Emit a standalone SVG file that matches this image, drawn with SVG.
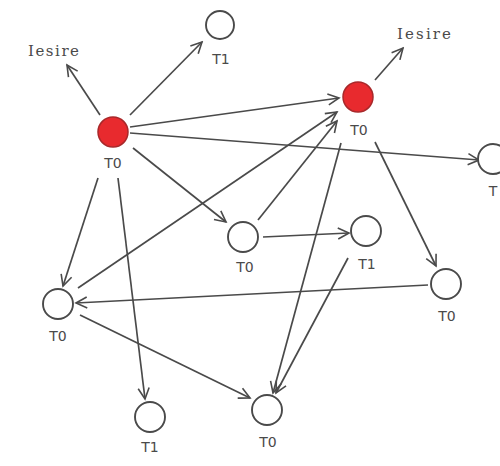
<svg xmlns="http://www.w3.org/2000/svg" width="500" height="466" viewBox="0 0 500 466">
<defs>
<marker id="arr" markerUnits="userSpaceOnUse" markerWidth="14" markerHeight="14" refX="12" refY="7" orient="auto">
<path d="M1,1.5 L12,7 L1,12.5" fill="none" stroke="#4a4a4a" stroke-width="1.6"/>
</marker>
<style>
.e{stroke:#4a4a4a;stroke-width:1.7;fill:none;marker-end:url(#arr)}
.n{fill:#fff;stroke:#4a4a4a;stroke-width:1.9}
.r{fill:#e82a2e;stroke:#a8282a;stroke-width:1.5}
.l{font-family:"DejaVu Sans",sans-serif;font-size:14px;fill:#4a4a4a;text-anchor:middle}
.o{font-family:"DejaVu Serif",serif;font-size:15px;fill:#4a4a4a}
</style>
</defs>
<rect width="500" height="466" fill="#fff"/>
<g id="connectors">
<line class="e" x1="100" y1="115" x2="67" y2="65"/>
<line class="e" x1="130" y1="115" x2="202" y2="42"/>
<line class="e" x1="130" y1="127" x2="339" y2="98"/>
<line class="e" x1="130" y1="133" x2="479" y2="160"/>
<line class="e" x1="133" y1="148" x2="226" y2="222"/>
<line class="e" x1="98" y1="178" x2="63" y2="286"/>
<line class="e" x1="118" y1="178" x2="145" y2="399"/>
<line class="e" x1="78" y1="288" x2="337" y2="112"/>
<line class="e" x1="80" y1="315" x2="250" y2="398"/>
<line class="e" x1="428" y1="285" x2="76" y2="303"/>
<line class="e" x1="375" y1="142" x2="436" y2="266"/>
<line class="e" x1="341" y1="143" x2="273" y2="393"/>
<line class="e" x1="258" y1="220" x2="337" y2="121"/>
<line class="e" x1="263" y1="237" x2="349" y2="233"/>
<line class="e" x1="348" y1="258" x2="276" y2="393"/>
<line class="e" x1="375" y1="80" x2="403" y2="48"/>
</g>
<g id="iesire1"><text class="o" x="28" y="56" textLength="51">Iesire</text></g>
<g id="iesire2"><text class="o" x="397" y="39" textLength="54">Iesire</text></g>
<g id="nA"><circle class="r" cx="113" cy="132" r="15"/><text class="l" x="113" y="168">T0</text></g>
<g id="nB"><circle class="n" cx="220" cy="25" r="14"/><text class="l" x="221" y="64">T1</text></g>
<g id="nC"><circle class="r" cx="358" cy="97" r="15"/><text class="l" x="359" y="135">T0</text></g>
<g id="nD"><circle class="n" cx="493" cy="159" r="15"/><text class="l" x="493" y="196">T</text></g>
<g id="nE"><circle class="n" cx="58" cy="304" r="15"/><text class="l" x="58" y="341">T0</text></g>
<g id="nF"><circle class="n" cx="243" cy="237" r="15"/><text class="l" x="245" y="272">T0</text></g>
<g id="nG"><circle class="n" cx="150" cy="417" r="15"/><text class="l" x="150" y="452">T1</text></g>
<g id="nH"><circle class="n" cx="267" cy="410" r="15"/><text class="l" x="268" y="447">T0</text></g>
<g id="nI"><circle class="n" cx="446" cy="284" r="15"/><text class="l" x="447" y="321">T0</text></g>
<g id="nJ"><circle class="n" cx="366" cy="231" r="15"/><text class="l" x="367" y="269">T1</text></g>
</svg>
